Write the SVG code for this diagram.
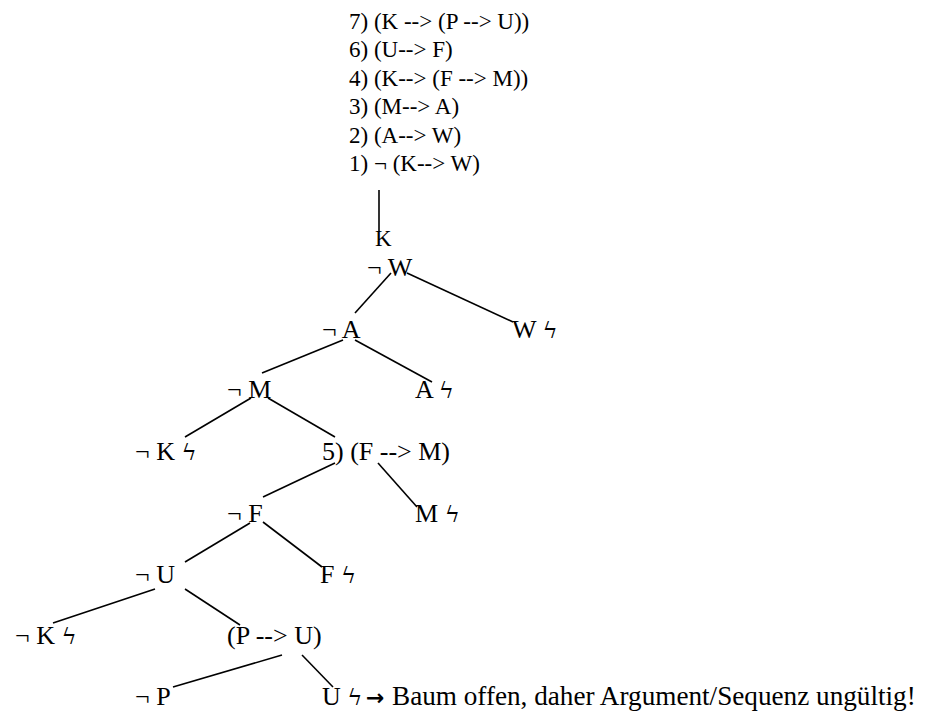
<svg xmlns="http://www.w3.org/2000/svg" width="925" height="711" viewBox="0 0 925 711">
<style>
text{font-family:"Liberation Serif","Times New Roman",serif;fill:#000}
.l{font-size:23px}
.t{font-size:26px}
.z{font-family:"DejaVu Serif","DejaVu Sans",serif;font-size:23px}
.ar{font-family:"DejaVu Sans",sans-serif;font-weight:bold;font-size:22px}
.b{font-size:27.2px}
#connectors line{stroke:#000;stroke-width:1.6;fill:none}
</style>
<rect width="925" height="711" fill="#fff"/>
<g id="premises">
<text class="l" x="349" y="28.5">7) (K --&gt; (P --&gt; U))</text>
<text class="l" x="349" y="57">6) (U--&gt; F)</text>
<text class="l" x="349" y="85.5">4) (K--&gt; (F --&gt; M))</text>
<text class="l" x="349" y="114">3) (M--&gt; A)</text>
<text class="l" x="349" y="142.5">2) (A--&gt; W)</text>
<text class="l" x="349" y="171">1) ¬ (K--&gt; W)</text>
</g>
<g id="connectors">
<line x1="379" y1="190" x2="379" y2="232"/>
<line x1="391" y1="273" x2="355" y2="313"/>
<line x1="407" y1="273" x2="513" y2="322"/>
<line x1="343" y1="340" x2="262" y2="373"/>
<line x1="355" y1="340" x2="432" y2="382"/>
<line x1="251" y1="398" x2="185" y2="437"/>
<line x1="268" y1="398" x2="335" y2="437"/>
<line x1="335" y1="463" x2="263" y2="497"/>
<line x1="378" y1="463" x2="417" y2="507"/>
<line x1="250" y1="523" x2="185" y2="562"/>
<line x1="263" y1="522" x2="322" y2="567"/>
<line x1="155" y1="589" x2="53" y2="623"/>
<line x1="185" y1="589" x2="240" y2="625"/>
<line x1="282" y1="655" x2="173" y2="687"/>
<line x1="302" y1="655" x2="333" y2="687"/>
</g>
<g id="n-K"><text class="l" x="375" y="246">K</text></g>
<g id="n-notW"><text class="t" x="367" y="276">¬ W</text></g>
<g id="n-notA"><text class="t" x="322" y="338">¬ A</text></g>
<g id="n-W"><text class="t" x="512" y="338">W <tspan class="z">ϟ</tspan></text></g>
<g id="n-notM"><text class="t" x="227" y="398">¬ M</text></g>
<g id="n-A"><text class="t" x="415" y="398">A <tspan class="z">ϟ</tspan></text></g>
<g id="n-notK1"><text class="t" x="135" y="460">¬ K <tspan class="z">ϟ</tspan></text></g>
<g id="n-FM"><text class="t" x="322" y="460">5) (F --&gt; M)</text></g>
<g id="n-notF"><text class="t" x="227" y="522">¬ F</text></g>
<g id="n-M"><text class="t" x="415" y="522">M <tspan class="z">ϟ</tspan></text></g>
<g id="n-notU"><text class="t" x="135" y="583">¬ U</text></g>
<g id="n-F"><text class="t" x="320" y="583">F <tspan class="z">ϟ</tspan></text></g>
<g id="n-notK2"><text class="t" x="15" y="644">¬ K <tspan class="z">ϟ</tspan></text></g>
<g id="n-PU"><text class="t" x="227" y="644">(P --&gt; U)</text></g>
<g id="n-notP"><text class="t" x="135" y="705">¬ P</text></g>
<g id="n-U"><text class="t" x="322" y="705">U <tspan class="z">ϟ</tspan><tspan class="ar" x="366">→</tspan><tspan class="b" x="392">Baum offen, daher Argument/Sequenz ungültig!</tspan></text></g>
</svg>
